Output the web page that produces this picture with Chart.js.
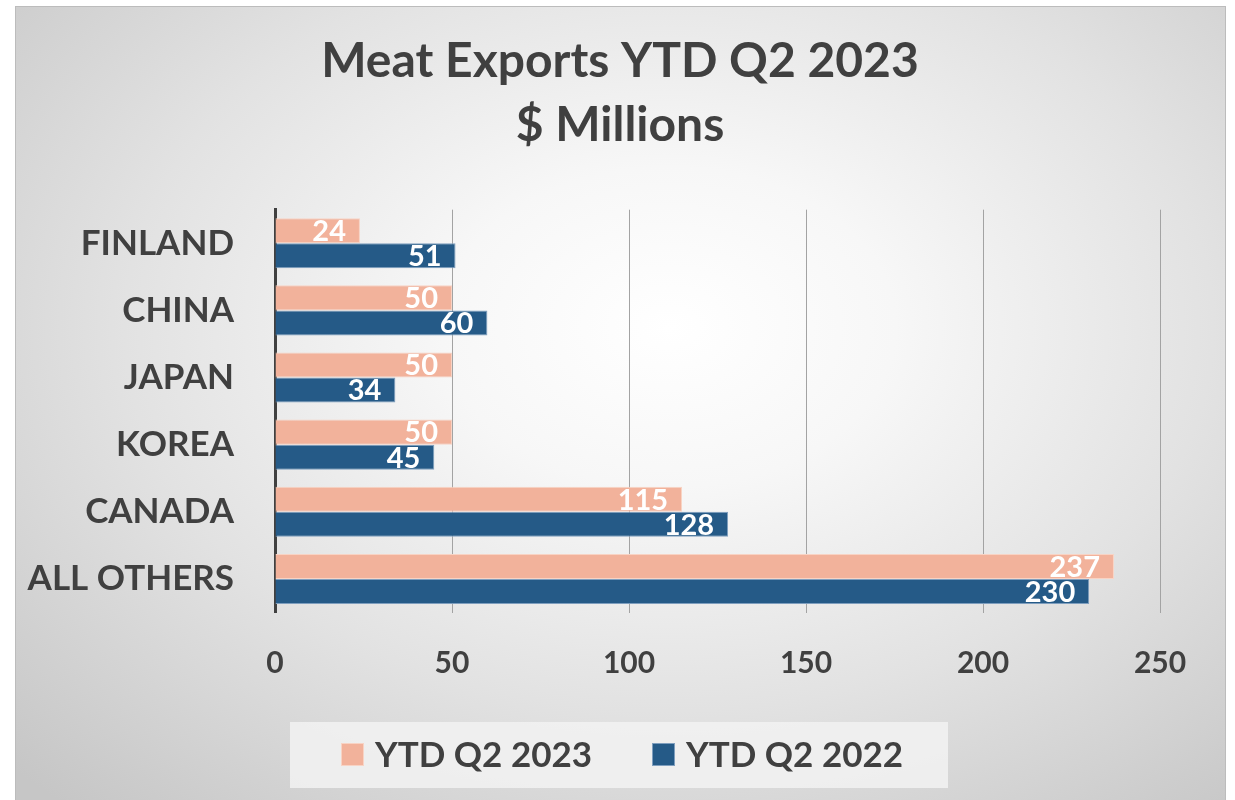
<!DOCTYPE html>
<html>
<head>
<meta charset="utf-8">
<script src="https://cdn.jsdelivr.net/npm/chart.js@4.4.1/dist/chart.umd.min.js"></script>
<style>
  html, body { margin:0; padding:0; width:1235px; height:800px; overflow:hidden; background:#ffffff; }
  #frame {
    position:absolute; left:15px; top:6px; width:1209px; height:800px;
    border-left:1px solid #bcbcbc; border-top:1px solid #bcbcbc; border-right:1px solid #bcbcbc;
    background: radial-gradient(ellipse 75% 80% at 54% 40%, #ffffff 0%, #f7f7f7 25%, #e2e2e2 60%, #c6c6c6 100%);
  }
  #wrap { position:absolute; left:0; top:0; width:1235px; height:800px; }
</style>
</head>
<body>
<div id="frame"></div>
<div id="wrap"><canvas id="c" width="1235" height="800"></canvas></div>
<script>
const categories = ['FINLAND', 'CHINA', 'JAPAN', 'KOREA', 'CANADA', 'ALL OTHERS'];
const seriesNames = ['YTD Q2 2023', 'YTD Q2 2022'];
const values2023 = [24, 50, 50, 50, 115, 237];
const values2022 = [51, 60, 34, 45, 128, 230];
const xTicks = [0, 50, 100, 150, 200, 250];
const titleLines = ['Meat Exports YTD Q2 2023', '$ Millions'];

const FONT = 'Lato, "Open Sans", sans-serif';
const TEXT = '#404040';

const dataLabelPlugin = {
  id: 'dataLabels',
  afterDatasetsDraw(chart) {
    const ctx = chart.ctx;
    ctx.save();
    ctx.font = 'bold 29px ' + FONT;
    ctx.fillStyle = '#ffffff';
    ctx.textAlign = 'right';
    ctx.textBaseline = 'middle';
    chart.data.datasets.forEach((ds, i) => {
      const meta = chart.getDatasetMeta(i);
      meta.data.forEach((bar, j) => {
        ctx.fillText(String(ds.data[j]), bar.x - 14, bar.y + 1);
      });
    });
    ctx.restore();
  }
};

const legendPlugin = {
  id: 'customLegend',
  afterDraw(chart) {
    const ctx = chart.ctx;
    ctx.save();
    ctx.fillStyle = 'rgba(242,242,242,0.85)';
    ctx.fillRect(290, 722, 658, 66);
    ctx.font = 'bold 35px ' + FONT;
    ctx.textBaseline = 'middle';
    ctx.textAlign = 'left';
    const positions = [341, 652];
    chart.data.datasets.forEach((ds, i) => {
      const x = positions[i];
      ctx.fillStyle = ds.backgroundColor;
      ctx.fillRect(x, 743, 23, 23);
      ctx.strokeStyle = ds.borderColor;
      ctx.lineWidth = 1;
      ctx.strokeRect(x + 0.5, 743.5, 22, 22);
      ctx.fillStyle = TEXT;
      ctx.fillText(ds.label, x + 34, 756);
    });
    ctx.restore();
  }
};

new Chart(document.getElementById('c'), {
  type: 'bar',
  data: {
    labels: categories,
    datasets: [
      { label: seriesNames[0], data: values2023, backgroundColor: '#F2B29B', borderColor: '#F8D3C4', borderWidth: 1 },
      { label: seriesNames[1], data: values2022, backgroundColor: '#255A87', borderColor: '#7E9EBE', borderWidth: 1 }
    ]
  },
  options: {
    indexAxis: 'y',
    responsive: false,
    animation: false,
    devicePixelRatio: 1,
    layout: { padding: { left: 15, right: 10, top: 6, bottom: 0 } },
    datasets: { bar: { barPercentage: 1.0, categoryPercentage: 0.746 } },
    plugins: {
      legend: { display: false },
      tooltip: { enabled: false },
      title: {
        display: true,
        text: titleLines,
        color: TEXT,
        font: { family: FONT, size: 48, weight: 'bold', lineHeight: 1.33 },
        padding: { top: 24, bottom: 52 }
      }
    },
    scales: {
      x: {
        min: 0, max: 250,
        afterBuildTicks(scale) { scale.ticks = xTicks.map(v => ({ value: v })); },
        ticks: { color: TEXT, font: { family: FONT, size: 30, weight: 'bold' }, padding: 33 },
        grid: { color: '#a3a3a3', lineWidth: 1, drawTicks: false },
        border: { display: false },
        afterFit(scale) { scale.height = 187.5; }
      },
      y: {
        ticks: { color: TEXT, font: { family: FONT, size: 35, weight: 'bold' }, padding: 41 },
        grid: { display: false, drawTicks: false },
        border: { display: true, color: '#404040', width: 3 },
        afterFit(scale) { scale.width = 260; }
      },
      rightSpace: {
        axis: 'y',
        type: 'category',
        position: 'right',
        ticks: { display: false },
        grid: { display: false, drawTicks: false },
        border: { display: false },
        afterFit(scale) { scale.width = 65; }
      }
    }
  },
  plugins: [dataLabelPlugin, legendPlugin]
});
</script>
</body>
</html>
